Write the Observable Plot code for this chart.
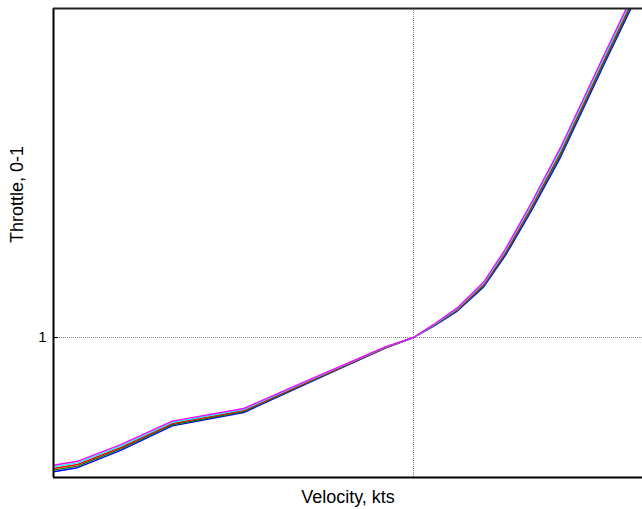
<!DOCTYPE html>
<html>
<head>
<meta charset="utf-8">
<script src="https://cdn.jsdelivr.net/npm/d3@7"></script>
<script src="https://cdn.jsdelivr.net/npm/@observablehq/plot@0.6"></script>
<style>
  html, body { margin: 0; padding: 0; background: #fff; overflow: hidden; }
  #chart { width: 642px; height: 509px; }
</style>
</head>
<body>
<div id="chart"></div>
<script>
// Normalized velocity (1 = reference point at the vertical grid line)
const velocity = [0.400, 0.440, 0.512, 0.598, 0.717, 0.795, 0.870, 0.953, 1.000, 1.033, 1.073, 1.117, 1.153, 1.195, 1.245, 1.317, 1.365];

// Normalized throttle, one array per run
const throttleMagenta = [0.6805, 0.6905, 0.7320, 0.7910, 0.8225, 0.8740, 0.9230, 0.9766, 1.0, 1.032, 1.074, 1.1385, 1.2205, 1.3325, 1.4745, 1.7045, 1.8545];
const throttleCyan    = [0.6765, 0.6865, 0.7285, 0.7880, 0.8200, 0.8720, 0.9215, 0.9758, 1.0, 1.031, 1.072, 1.1355, 1.2165, 1.3275, 1.4685, 1.6985, 1.8485];
const throttleRed     = [0.6725, 0.6825, 0.7250, 0.7850, 0.8175, 0.8700, 0.9200, 0.9750, 1.0, 1.030, 1.070, 1.1325, 1.2125, 1.3225, 1.4625, 1.6925, 1.8425];
const throttleGreen   = [0.6685, 0.6785, 0.7215, 0.7820, 0.8150, 0.8680, 0.9185, 0.9742, 1.0, 1.029, 1.068, 1.1295, 1.2085, 1.3175, 1.4565, 1.6865, 1.8365];
const throttleBlue    = [0.6645, 0.6745, 0.7180, 0.7790, 0.8125, 0.8660, 0.9170, 0.9734, 1.0, 1.028, 1.066, 1.1265, 1.2045, 1.3125, 1.4505, 1.6805, 1.8305];

const seriesNames  = ["blue", "green", "red", "cyan", "magenta"];
const seriesColors = ["#0000ff", "#008000", "#ff0000", "#00e0e0", "#ff00ff"];
const seriesValues = [throttleBlue, throttleGreen, throttleRed, throttleCyan, throttleMagenta];

const xDomain = [0.4, 1.3817];
const yDomain = [0.65, 1.8225];
const yTicks = [1];
const xLabel = "Velocity, kts";
const yLabel = "Throttle, 0-1";

const rows = [];
seriesNames.forEach((name, i) => {
  velocity.forEach((v, j) => rows.push({series: name, v, t: seriesValues[i][j]}));
});

const font = "Liberation Sans, Arial, sans-serif";

const chart = Plot.plot({
  width: 642,
  height: 509,
  marginLeft: 53,
  marginRight: 0,
  marginTop: 8,
  marginBottom: 32,
  style: {fontFamily: font, fontSize: "14px", background: "#fff", color: "#000"},
  x: {domain: xDomain},
  y: {domain: yDomain},
  color: {domain: seriesNames, range: seriesColors},
  marks: [
    Plot.ruleX([1], {stroke: "#888", strokeWidth: 1, strokeDasharray: "1,1"}),
    Plot.ruleY([1], {stroke: "#888", strokeWidth: 1, strokeDasharray: "1,1"}),
    Plot.line(rows, {x: "v", y: "t", z: "series", stroke: "series", strokeWidth: 1.4, clip: true}),
    Plot.axisY({ticks: yTicks, tickSize: -5, tickPadding: 12, tickFormat: d => String(d), label: null, fontSize: 15, stroke: "#000"}),
    Plot.axisX({ticks: [], label: null}),
    Plot.ruleX([xDomain[0]], {stroke: "#000", strokeWidth: 2}),
    Plot.ruleY([yDomain[0]], {stroke: "#000", strokeWidth: 2}),
    Plot.ruleY([yDomain[1]], {stroke: "#222", strokeWidth: 2}),
    Plot.text([xLabel], {frameAnchor: "bottom", dy: 20, lineAnchor: "middle", fontSize: 18, fill: "#000"}),
    Plot.text([yLabel], {frameAnchor: "left", dx: -36, rotate: -90, lineAnchor: "middle", fontSize: 18, fill: "#000"})
  ]
});
document.getElementById("chart").appendChild(chart);
</script>
</body>
</html>
